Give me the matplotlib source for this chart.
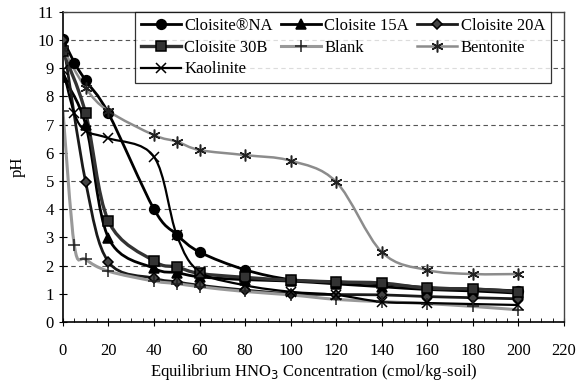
import matplotlib
matplotlib.use("Agg")
import matplotlib.pyplot as plt
import numpy as np
from matplotlib.lines import Line2D
from matplotlib.path import Path
from matplotlib.patches import PathPatch

plt.rcParams["font.family"] = ["Liberation Serif", "DejaVu Serif"]

# data
na_x = [0, 5, 10, 20, 40, 50, 60, 80, 100, 120, 140, 160, 180, 200]
na_y = [10.05, 9.2, 8.57, 7.4, 4.0, 3.1, 2.48, 1.85, 1.5, 1.42, 1.35, 1.22, 1.17, 1.1]

c15a_x = [0, 10, 20, 40, 50, 60, 80, 100, 120, 140, 160, 180, 200]
c15a_y = [8.7, 7.0, 2.98, 1.9, 1.75, 1.6, 1.5, 1.45, 1.35, 1.25, 1.15, 1.1, 1.02]

c20a_x = [0, 10, 20, 40, 50, 60, 80, 100, 120, 140, 160, 180, 200]
c20a_y = [10.0, 4.96, 2.13, 1.55, 1.42, 1.3, 1.13, 1.0, 0.97, 0.96, 0.9, 0.86, 0.82]

c30b_x = [0, 10, 20, 40, 50, 60, 80, 100, 120, 140, 160, 180, 200]
c30b_y = [9.6, 7.4, 3.58, 2.16, 1.95, 1.72, 1.58, 1.48, 1.42, 1.38, 1.2, 1.17, 1.07]

blank_x = [0, 5, 10, 20, 40, 50, 60, 80, 100, 120, 140, 160, 180, 200]
blank_y = [7.5, 2.72, 2.22, 1.8, 1.45, 1.36, 1.25, 1.08, 0.96, 0.8, 0.72, 0.65, 0.55, 0.43]

bent_x = [0, 10, 20, 40, 50, 60, 80, 100, 120, 140, 160, 180, 200]
bent_y = [9.7, 8.3, 7.48, 6.63, 6.4, 6.1, 5.92, 5.72, 4.97, 2.48, 1.84, 1.7, 1.7]

kaol_x = [0, 5, 10, 20, 40, 50, 60, 80, 100, 120, 140, 160, 200]
kaol_y = [8.95, 7.4, 6.78, 6.52, 5.86, 3.08, 1.78, 1.3, 1.07, 0.96, 0.71, 0.67, 0.6]

grid_levels = [2, 4, 5, 7, 8, 9, 10]


def smooth_path(xs, ys):
    # Excel-like smoothed line: cubic bezier segments through the points
    p = np.column_stack([xs, ys]).astype(float)
    n = len(p)
    verts = [p[0]]
    codes = [Path.MOVETO]
    for i in range(n - 1):
        p0 = p[i - 1] if i > 0 else p[i]
        p3 = p[i + 2] if i + 2 < n else p[i + 1]
        c1 = p[i] + (p[i + 1] - p0) / 6.0
        c2 = p[i + 1] - (p3 - p[i]) / 6.0
        verts += [c1, c2, p[i + 1]]
        codes += [Path.CURVE4] * 3
    return Path(verts, codes)


series = [
    # label, x, y, line colour, lw, marker, ms, marker face, marker edge
    ("Cloisite®NA", na_x, na_y, "black", 2.0, "o", 7, "black", "black"),
    ("Cloisite 15A", c15a_x, c15a_y, "black", 2.0, "^", 6.5, "black", "black"),
    ("Cloisite 20A", c20a_x, c20a_y, "#1a1a1a", 2.0, "D", 5, "#444444", "black"),
    ("Cloisite 30B", c30b_x, c30b_y, "#333333", 2.4, "s", 6.5, "#333333", "black"),
    ("Blank", blank_x, blank_y, "#999999", 2.2, "+", 8, "none", "#222222"),
    ("Bentonite", bent_x, bent_y, "#8c8c8c", 1.8, (6, 2, 0), 8.5, "none", "#222222"),
    ("Kaolinite", kaol_x, kaol_y, "black", 1.6, "x", 6.5, "white", "black"),
]

fig = plt.figure(figsize=(5.88, 3.86), dpi=100)
ax = fig.add_axes([0.107, 0.166, 0.852, 0.803])

for lv in grid_levels:
    ax.axhline(lv, color="#555555", lw=0.8, linestyle=(0, (4, 3)), zorder=0)

handles = {}
for label, xs, ys, col, lw, mk, ms, mfc, mec in series:
    patch = PathPatch(smooth_path(xs, ys), facecolor="none", edgecolor=col, lw=lw,
                      transform=ax.transData, zorder=2)
    ax.add_patch(patch)
    ax.plot(xs, ys, linestyle="none", marker=mk, ms=ms, mfc=mfc, mec=mec,
            mew=1.1, zorder=3)
    handles[label] = Line2D([], [], color=col, lw=lw, marker=mk, ms=ms, mfc=mfc,
                            mec=mec, mew=1.1)

ax.set_xlim(0, 220)
ax.set_ylim(0, 11)
ax.set_xticks(np.arange(0, 221, 20))
ax.set_xticks(np.arange(0, 221, 5), minor=True)
ax.set_yticks(np.arange(0, 12, 1))
ax.tick_params(axis="both", labelsize=12, colors="black", length=4, width=0.8)
ax.tick_params(axis="x", direction="inout", length=6)
ax.tick_params(axis="x", which="minor", direction="in", length=3, width=0.6)
ax.tick_params(axis="y", direction="inout", length=6)
ax.tick_params(axis="x", pad=12)

for side in ["left", "bottom"]:
    ax.spines[side].set_color("black")
    ax.spines[side].set_linewidth(1.2)
for side in ["top", "right"]:
    ax.spines[side].set_color("#444444")
    ax.spines[side].set_linewidth(1.0)

ax.set_xlabel("Equilibrium HNO$_3$ Concentration (cmol/kg-soil)", fontsize=12, labelpad=2)
ax.set_ylabel("pH", fontsize=12, labelpad=8)

order = ["Cloisite®NA", "Cloisite 30B", "Kaolinite", "Cloisite 15A", "Blank",
         "Cloisite 20A", "Bentonite"]
leg = ax.legend([handles[k] for k in order], order, ncol=3, loc="upper left",
                bbox_to_anchor=(0.144, 1.0, 0.83, 0.0), mode="expand",
                fontsize=12, frameon=True, fancybox=False, handlelength=2.4,
                handletextpad=0.2, columnspacing=0.8, labelspacing=0.35,
                borderpad=0.35, borderaxespad=0.0)
leg.get_frame().set_edgecolor("black")
leg.get_frame().set_linewidth(0.9)
leg.set_zorder(5)

fig.savefig("out.png", dpi=100, facecolor="white")
